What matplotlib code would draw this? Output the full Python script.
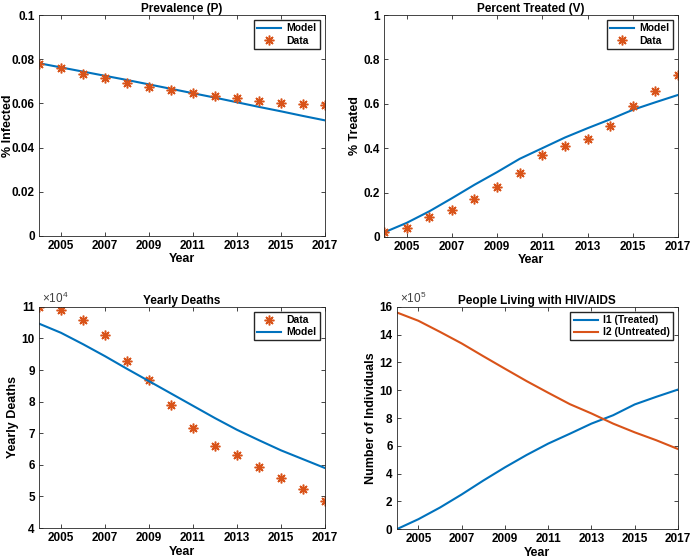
import numpy as np
import matplotlib
matplotlib.use('Agg')
import matplotlib.pyplot as plt
from matplotlib.ticker import FuncFormatter

plt.rcParams['font.family'] = ['Liberation Sans', 'DejaVu Sans']
plt.rcParams['font.weight'] = 'bold'
plt.rcParams['axes.titleweight'] = 'bold'
plt.rcParams['axes.labelweight'] = 'bold'
plt.rcParams['mathtext.default'] = 'regular'

BLUE = '#0072BD'
ORANGE = '#D95319'

years = np.arange(2004, 2018)
xticks = [2005, 2007, 2009, 2011, 2013, 2015, 2017]

# prevalence (fraction infected)
prev_data = [0.078, 0.076, 0.0735, 0.0715, 0.0693, 0.0672, 0.066, 0.0647,
             0.0635, 0.0623, 0.0612, 0.0603, 0.0596, 0.0593]
prev_model = [0.0782, 0.0763, 0.0744, 0.0725, 0.0706, 0.0686, 0.0666, 0.0646,
              0.0626, 0.0605, 0.0584, 0.0564, 0.0543, 0.0523]

# percent treated
treat_data = [0.022, 0.04, 0.09, 0.12, 0.17, 0.225, 0.29, 0.37,
              0.41, 0.44, 0.50, 0.59, 0.66, 0.73]
treat_model = [0.02, 0.063, 0.115, 0.174, 0.235, 0.292, 0.352, 0.40,
               0.448, 0.49, 0.53, 0.573, 0.607, 0.64]

# yearly deaths
deaths_data = [110000, 108900, 106000, 101000, 92900, 86800, 79000, 71700,
               65900, 63000, 59300, 56000, 52500, 48500]
deaths_model = [104700, 101800, 98200, 94400, 90400, 86500, 82600, 78700,
                74800, 71100, 67800, 64600, 61800, 59000]

# people living with HIV/AIDS
i1_treated = [0, 72000, 156000, 250000, 350000, 445000, 534000, 616000,
              687000, 760000, 820000, 898000, 953000, 1005000]
i2_untreated = [1560000, 1500000, 1420000, 1337000, 1245000, 1155000, 1066000, 982000,
                900000, 833000, 760000, 697000, 640000, 577000]

fig = plt.figure(figsize=(6.9, 5.6), dpi=100)

TICK_FS = 8.5
LAB_FS = 9
TITLE_FS = 8.5
LEG_FS = 7.5


def style(ax, title, ylabel):
    ax.set_xlim(2004, 2017)
    ax.set_xticks(xticks)
    ax.tick_params(direction='in', top=True, right=True, labelsize=TICK_FS,
                   length=3, width=0.6, color='#262626', pad=3)
    for s in ax.spines.values():
        s.set_linewidth(0.6)
        s.set_color('#262626')
    ax.set_title(title, fontsize=TITLE_FS, pad=2)
    ax.set_xlabel('Year', fontsize=LAB_FS, labelpad=1)
    ax.set_ylabel(ylabel, fontsize=LAB_FS, labelpad=2)


def scaled(ax, power):
    ax.yaxis.set_major_formatter(FuncFormatter(lambda v, p: f'{v / 10**power:g}'))
    ax.text(0.01, 1.005, r'$\times10^{%d}$' % power, transform=ax.transAxes,
            fontsize=TICK_FS, fontweight='normal', color='#404040',
            ha='left', va='bottom')


def legend(ax):
    ax.legend(loc='upper right', fontsize=LEG_FS, fancybox=False, edgecolor='#262626',
              borderpad=0.3, handlelength=2.3, labelspacing=0.2, framealpha=1,
              handletextpad=0.5)


mk = dict(marker=(8, 2, 0), linestyle='none', color=ORANGE, markersize=7,
          markeredgewidth=1.1)

# top left
ax1 = fig.add_axes([0.0565, 0.579, 0.4145, 0.394])
ax1.plot(years, prev_model, color=BLUE, lw=1.5, label='Model')
ax1.plot(years, prev_data, label='Data', **mk)
ax1.set_ylim(0, 0.1)
ax1.set_yticks([0, 0.02, 0.04, 0.06, 0.08, 0.1])
ax1.set_yticklabels(['0', '0.02', '0.04', '0.06', '0.08', '0.1'])
style(ax1, 'Prevalence (P)', '% Infected')
ax1.yaxis.set_label_coords(-0.088, 0.5)
legend(ax1)

# top right
ax2 = fig.add_axes([0.5565, 0.577, 0.4261, 0.396])
ax2.plot(years, treat_model, color=BLUE, lw=1.5, label='Model')
ax2.plot(years, treat_data, label='Data', **mk)
ax2.set_ylim(0, 1)
ax2.set_yticks([0, 0.2, 0.4, 0.6, 0.8, 1])
ax2.set_yticklabels(['0', '0.2', '0.4', '0.6', '0.8', '1'])
style(ax2, 'Percent Treated (V)', '% Treated')
legend(ax2)

# bottom left
ax3 = fig.add_axes([0.0565, 0.057, 0.4145, 0.395])
ax3.plot(years, deaths_data, label='Data', **mk)
ax3.plot(years, deaths_model, color=BLUE, lw=1.5, label='Model')
ax3.set_ylim(40000, 110000)
ax3.set_yticks(np.arange(40000, 110001, 10000))
scaled(ax3, 4)
style(ax3, 'Yearly Deaths', 'Yearly Deaths')
legend(ax3)

# bottom right
ax4 = fig.add_axes([0.575, 0.055, 0.4076, 0.397])
ax4.plot(years, i1_treated, color=BLUE, lw=1.5, label='I1 (Treated)')
ax4.plot(years, i2_untreated, color=ORANGE, lw=1.5, label='I2 (Untreated)')
ax4.set_ylim(0, 1600000)
ax4.set_yticks(np.arange(0, 1600001, 200000))
scaled(ax4, 5)
style(ax4, 'People Living with HIV/AIDS', 'Number of Individuals')
legend(ax4)

fig.savefig('out.png', dpi=100)
